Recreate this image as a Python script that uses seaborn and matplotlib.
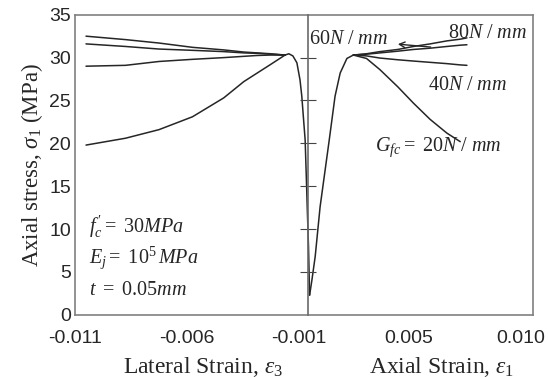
import numpy as np
import pandas as pd
import matplotlib
matplotlib.use('Agg')
import matplotlib.pyplot as plt
import seaborn as sns

# pre-peak branches (shared by all G_fc)
lat_rise_x = [0.00005, 0.0, -0.00005, -0.00008, -0.00015, -0.00023, -0.0003, -0.00038, -0.00052, -0.0007, -0.00088, -0.00105]
lat_rise_y = [2.3, 8.0, 12.0, 14.6, 20.4, 23.1, 25.5, 27.4, 29.4, 30.2, 30.45, 30.3]
ax_rise_x = [0.00005, 0.00015, 0.0003, 0.00052, 0.00093, 0.00119, 0.00142, 0.00172, 0.00201]
ax_rise_y = [2.3, 4.0, 6.8, 12.6, 20.4, 25.5, 28.2, 29.9, 30.3]

# post-peak branches for each fracture energy G_fc (N/mm)
lat_post_x = [-0.00105, -0.0017, -0.0023, -0.0029, -0.0038, -0.0052, -0.0067, -0.0082, -0.00997]
lat_g80 = [30.3, 30.45, 30.55, 30.65, 30.9, 31.2, 31.7, 32.1, 32.5]
lat_g60 = [30.3, 30.4, 30.5, 30.55, 30.7, 30.85, 31.0, 31.3, 31.6]
lat_g40 = [30.3, 30.3, 30.25, 30.15, 30.0, 29.8, 29.55, 29.1, 29.0]
lat_g20 = [30.3, 29.2, 28.2, 27.2, 25.3, 23.1, 21.6, 20.6, 19.8]

ax_post_x = [0.00201, 0.0026, 0.0032, 0.0040, 0.0047, 0.00545, 0.0062, 0.0068, 0.0071]
ax_g80 = [30.3, 30.45, 30.7, 30.95, 31.3, 31.6, 31.95, 32.15, 32.3]
ax_g60 = [30.3, 30.4, 30.55, 30.75, 30.95, 31.1, 31.3, 31.45, 31.5]
ax_g40 = [30.3, 30.2, 29.95, 29.75, 29.6, 29.45, 29.3, 29.15, 29.1]
ax_g20 = [30.3, 29.9, 28.6, 26.6, 24.7, 22.8, 21.2, 20.2, np.nan]

# axis ticks (labels as printed in the figure)
xtick_pos = [-0.01046, -0.00547, -0.00042, 0.00451, 0.00953]
xtick_labels = ['-0.011', '-0.006', '-0.001', '0.005', '0.010']
ytick_vals = [0, 5, 10, 15, 20, 25, 30, 35]

branches = [
    ('lat_rise', lat_rise_x, lat_rise_y),
    ('ax_rise', ax_rise_x, ax_rise_y),
    ('lat_80', lat_post_x, lat_g80),
    ('lat_60', lat_post_x, lat_g60),
    ('lat_40', lat_post_x, lat_g40),
    ('lat_20', lat_post_x, lat_g20),
    ('ax_80', ax_post_x, ax_g80),
    ('ax_60', ax_post_x, ax_g60),
    ('ax_40', ax_post_x, ax_g40),
    ('ax_20', ax_post_x, ax_g20),
]
df = pd.concat([pd.DataFrame({'strain': x, 'stress': y, 'branch': name})
                for name, x, y in branches], ignore_index=True)
df = df.dropna()

sns.set_style('white')
plt.rcParams['font.family'] = ['Liberation Sans', 'DejaVu Sans']
plt.rcParams['mathtext.fontset'] = 'custom'
plt.rcParams['mathtext.rm'] = 'Liberation Serif'
plt.rcParams['mathtext.it'] = 'Liberation Serif:italic'

fig = plt.figure(figsize=(5.48, 3.78), dpi=100)
ax = fig.add_axes([0.137, 0.167, 0.836, 0.794])

sns.lineplot(data=df, x='strain', y='stress', units='branch', estimator=None,
             sort=False, color='#262626', linewidth=1.1, ax=ax)

ax.set_xlim(-0.01046, 0.01007)
ax.set_ylim(0, 35)
ax.set_xticks(xtick_pos)
ax.set_xticklabels(xtick_labels)
ax.set_yticks(ytick_vals)
ax.tick_params(axis='x', direction='in', length=5, color='#777777', labelsize=14, pad=11)
ax.tick_params(axis='y', length=0, labelsize=14, pad=3)
for s in ax.spines.values():
    s.set_color('#808080')
    s.set_linewidth(1.2)
ax.set_xlabel('')
ax.set_ylabel(r'Axial stress, $\sigma_1$ (MPa)', family='Liberation Serif', fontsize=16.5, labelpad=3)

# middle axis at zero strain with its own ticks
ax2 = ax.twinx()
ax2.set_ylim(0, 35)
ax2.spines['right'].set_position(('data', 0))
ax2.spines['right'].set_color('#6a6a6a')
ax2.spines['right'].set_linewidth(1.2)
for side in ['left', 'top', 'bottom']:
    ax2.spines[side].set_visible(False)
ax2.set_yticks([5, 10, 15, 20, 25, 30])
ax2.tick_params(axis='y', direction='inout', length=11, color='#444444', labelright=False)

serif = 'Liberation Serif'
ax.text(0.28, -0.175, r'Lateral Strain, $\varepsilon_3$', transform=ax.transAxes,
        ha='center', va='center', family=serif, fontsize=17)
ax.text(0.80, -0.175, r'Axial Strain, $\varepsilon_1$', transform=ax.transAxes,
        ha='center', va='center', family=serif, fontsize=17)

ax.text(0.00003, 32.1, r'$60N\ /\ mm$', ha='left', va='center', family=serif, fontsize=14.5)
ax.text(0.00626, 32.8, r'$80N\ /\ mm$', ha='left', va='center', family=serif, fontsize=14.5)
ax.text(0.00536, 26.8, r'$40N\ /\ mm$', ha='left', va='center', family=serif, fontsize=14.5)
ax.text(0.00298, 19.6, r'$G_{fc}=\ 20N\ /\ mm$', ha='left', va='center', family=serif, fontsize=14.5)
ax.annotate('', xy=(0.00388, 31.6), xytext=(0.0056, 31.2),
            arrowprops=dict(arrowstyle='->', color='#262626', lw=1.0))

ax.text(-0.00984, 10.3, r"$f^{\,\prime}_{c}=\ 30MPa$", ha='left', va='center', family=serif, fontsize=14.5)
ax.text(-0.00984, 6.7, r'$E_j=\ 10^5\,MPa$', ha='left', va='center', family=serif, fontsize=14.5)
ax.text(-0.00984, 2.9, r'$t\ =\ 0.05mm$', ha='left', va='center', family=serif, fontsize=14.5)

fig.savefig('out.png', dpi=100)
plt.close(fig)
